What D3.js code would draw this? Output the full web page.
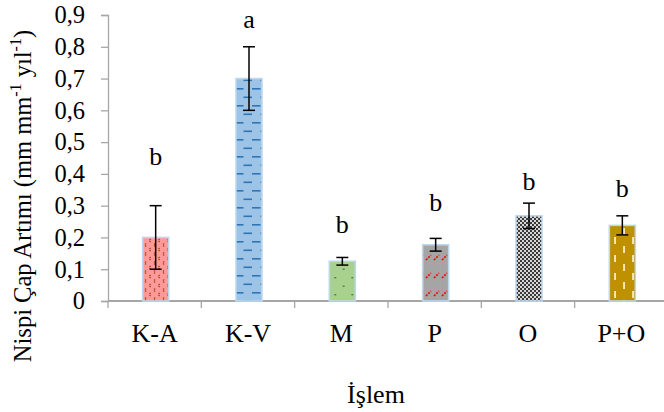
<!DOCTYPE html>
<html><head><meta charset="utf-8">
<script src="https://cdn.jsdelivr.net/npm/d3@7"></script>
</head>
<body style="margin:0;background:#fff"><svg id="c" width="664" height="412" style="display:block"></svg>
<script>
// ---- data ----
const categories = ["K-A","K-V","M","P","O","P+O"];
const values     = [0.20, 0.70, 0.125, 0.177, 0.268, 0.238];
const errors     = [0.10, 0.10, 0.012, 0.020, 0.040, 0.030];
const letters    = ["b","a","b","b","b","b"];
const letterAt   = [0.428, 0.859, 0.215, 0.283, 0.349, 0.326];
const yTicks     = [0,0.1,0.2,0.3,0.4,0.5,0.6,0.7,0.8,0.9];
const yTitle     = "Nispi Çap Artımı (mm mm";
const xTitle     = "İşlem";

// ---- styles ----
const FONT = "Liberation Serif";
const svg = d3.select("#c").attr("font-family", FONT);
const W = 664, H = 412;
const x = d3.scaleBand().domain(categories).range([108, 668]).paddingInner(0).paddingOuter(0);
const y = d3.scaleLinear().domain([0, 0.9]).range([301, 15]);
const axisColor = "#A6A6A6";
const barW = 26;

const defs = svg.append("defs");
let p = defs.append("pattern").attr("id","pKA").attr("patternUnits","userSpaceOnUse").attr("width",9).attr("height",9);
p.append("rect").attr("width",9).attr("height",9).attr("fill","#FF9999");
p.append("path").attr("d","M1,1.5 l1.2,-1 M1,2.5 l1.2,1 M5.5,6 l1.2,-1 M5.5,7 l1.2,1").attr("stroke","#9C4A1A").attr("stroke-width",1.1);
p = defs.append("pattern").attr("id","pKV").attr("patternUnits","userSpaceOnUse").attr("width",17).attr("height",17).attr("x",235).attr("y",3);
p.append("rect").attr("width",17).attr("height",17).attr("fill","#9DC3E6");
p.append("rect").attr("x",0).attr("y",0).attr("width",8.5).attr("height",1.6).attr("fill","#2E75B6");
p.append("rect").attr("x",8.5).attr("y",8.5).attr("width",8.5).attr("height",1.6).attr("fill","#2E75B6");
p = defs.append("pattern").attr("id","pM").attr("patternUnits","userSpaceOnUse").attr("width",17).attr("height",17).attr("x",334.5).attr("y",277);
p.append("rect").attr("width",17).attr("height",17).attr("fill","#A9D18E");
p.append("rect").attr("x",0).attr("y",0).attr("width",1.4).attr("height",1.4).attr("fill","#375623");
p.append("rect").attr("x",8.5).attr("y",8.5).attr("width",1.4).attr("height",1.4).attr("fill","#375623");
p = defs.append("pattern").attr("id","pP").attr("patternUnits","userSpaceOnUse").attr("width",8).attr("height",18).attr("x",329).attr("y",1);
p.append("rect").attr("width",8).attr("height",18).attr("fill","#A5A5A5");
p.append("path").attr("d","M1,7 L6,2").attr("stroke","#FF0000").attr("stroke-width",1.7).attr("stroke-dasharray","2,1.2");
p = defs.append("pattern").attr("id","pO").attr("patternUnits","userSpaceOnUse").attr("width",4).attr("height",4);
p.append("rect").attr("width",4).attr("height",4).attr("fill","#D6D6D6");
p.append("rect").attr("width",2).attr("height",2).attr("fill","#3A3A3A");
p.append("rect").attr("x",2).attr("y",2).attr("width",2).attr("height",2).attr("fill","#3A3A3A");
p = defs.append("pattern").attr("id","pPO").attr("patternUnits","userSpaceOnUse").attr("width",18).attr("height",18).attr("x",608).attr("y",3);
p.append("rect").attr("width",18).attr("height",18).attr("fill","#BF9000");
p.append("rect").attr("x",6.2).attr("y",0).attr("width",1.7).attr("height",7).attr("fill","#FFF2CC");
p.append("rect").attr("x",15.2).attr("y",9).attr("width",1.7).attr("height",7).attr("fill","#FFF2CC");
const fills = ["url(#pKA)","url(#pKV)","url(#pM)","url(#pP)","url(#pO)","url(#pPO)"];

// y axis
const yAxis = svg.append("g").attr("transform","translate(108,0)")
  .call(d3.axisLeft(y).tickValues(yTicks).tickSize(7).tickPadding(16)
        .tickFormat(d => d3.format(".1~f")(d).replace(".", ",")));
yAxis.attr("font-family", FONT).attr("font-size", 24.5);
yAxis.select(".domain").attr("stroke",axisColor).attr("stroke-width",1.3);
yAxis.selectAll(".tick line").attr("stroke",axisColor).attr("stroke-width",1.3);
yAxis.selectAll(".tick text").attr("font-family",FONT).attr("font-size",24.5).attr("fill","#000");

// x axis
const bounds = categories.map(c => x(c));
svg.append("line").attr("x1",108).attr("x2",W).attr("y1",y(0)).attr("y2",y(0))
  .attr("stroke",axisColor).attr("stroke-width",2);
svg.selectAll("line.xt").data(bounds).enter().append("line").attr("class","xt")
  .attr("x1",d=>d).attr("x2",d=>d).attr("y1",y(0)).attr("y2",y(0)+7)
  .attr("stroke",axisColor).attr("stroke-width",1.3);
svg.selectAll("text.xl").data(categories).enter().append("text").attr("class","xl")
  .attr("x",d=>x(d)+x.bandwidth()/2).attr("y",342).attr("text-anchor","middle")
  .attr("font-family",FONT).attr("font-size",26).attr("fill","#000").text(d=>d);

// bars
const bars = svg.append("g");
categories.forEach((c,i) => {
  const cx = x(c) + x.bandwidth()/2 + 1;
  bars.append("rect").attr("x",cx-barW/2).attr("y",y(values[i])).attr("width",barW)
    .attr("height",y(0)-y(values[i])).attr("fill",fills[i])
    .attr("stroke","#BDD7EE").attr("stroke-width",1.6);
  const g = bars.append("g").attr("stroke","#000").attr("stroke-width",1.5);
  g.append("line").attr("x1",cx).attr("x2",cx).attr("y1",y(values[i]+errors[i])).attr("y2",y(values[i]-errors[i]));
  g.append("line").attr("x1",cx-6).attr("x2",cx+6).attr("y1",y(values[i]+errors[i])).attr("y2",y(values[i]+errors[i]));
  g.append("line").attr("x1",cx-6).attr("x2",cx+6).attr("y1",y(values[i]-errors[i])).attr("y2",y(values[i]-errors[i]));
  bars.append("text").attr("x",cx).attr("y",y(letterAt[i])).attr("text-anchor","middle")
    .attr("font-family",FONT).attr("font-size",26).attr("fill","#000").text(letters[i]);
});

// titles
const yt = svg.append("text").attr("transform","translate(31,196) rotate(-90)")
  .attr("text-anchor","middle").attr("font-family",FONT).attr("font-size",24.5).attr("fill","#000");
yt.append("tspan").text(yTitle);
yt.append("tspan").attr("font-size",16).attr("dy",-10).text("-1");
yt.append("tspan").attr("dy",10).text(" yıl");
yt.append("tspan").attr("font-size",16).attr("dy",-10).text("-1");
yt.append("tspan").attr("dy",10).text(")");
svg.append("text").attr("x",376).attr("y",403).attr("text-anchor","middle")
  .attr("font-family",FONT).attr("font-size",26).attr("fill","#000").text(xTitle);
</script></body></html>
